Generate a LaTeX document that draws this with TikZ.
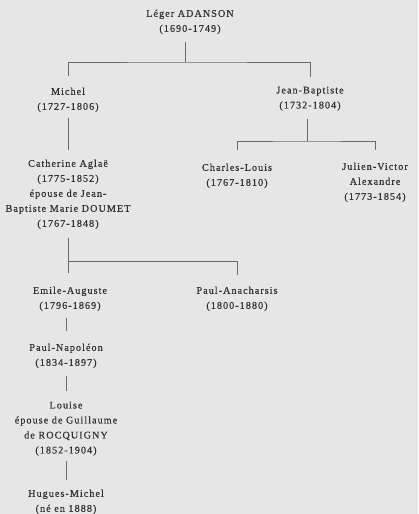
\documentclass[tikz,border=0pt]{standalone}
\usepackage{fontspec}
\setmainfont{Liberation Serif}[LetterSpace=10,FakeBold=0.6]
\definecolor{bg}{HTML}{E6E6E6}
\definecolor{ink}{HTML}{333333}
\definecolor{ln}{HTML}{6A6A6A}
\begin{document}
\begin{tikzpicture}[x=1pt,y=-1pt,
  person/.style={anchor=north,inner sep=0pt,align=center,text=ink,
    font=\fontsize{10.2}{15}\selectfont},
  link/.style={draw=ln,line width=0.9pt}]
\fill[bg] (0,0) rectangle (418,514);
\useasboundingbox (0,0) rectangle (418,514);
% people
\node[person] (lg) at (190,9.5) {Léger ADANSON\\(1690-1749)};
\node[person] (mi) at (68,87.5) {Michel\\(1727-1806)};
\node[person] (jb) at (310,86.5) {Jean-Baptiste\\(1732-1804)};
\node[person] (ca) at (68,159.5) {Catherine Aglaë\\(1775-1852)\\épouse de Jean-\\Baptiste Marie DOUMET\\(1767-1848)};
\node[person] (cl) at (237,163.5) {Charles-Louis\\(1767-1810)};
\node[person] (jv) at (375,162.5) {Julien-Victor\\Alexandre\\(1773-1854)};
\node[person] (em) at (70,286.5) {Emile-Auguste\\(1796-1869)};
\node[person] (pa) at (237,286.5) {Paul-Anacharsis\\(1800-1880)};
\node[person] (pn) at (66,343.5) {Paul-Napoléon\\(1834-1897)};
\node[person] (lo) at (66,401.5) {Louise\\épouse de Guillaume\\de ROCQUIGNY\\(1852-1904)};
\node[person] (hm) at (66,489.5) {Hugues-Michel\\(né en 1888)};
% junctions
\coordinate (j1) at (185,62);
\coordinate (j2) at (307,141);
\coordinate (j3) at (68,261);
% connectors
\draw[link] (185,42) -- (j1);
\draw[link] (mi.north |- 0,76) |- (j1) -| (jb.north |- 0,77);
\draw[link] (307,119) -- (j2);
\draw[link] (cl.north |- 0,150) |- (j2) -| (jv.north |- 0,150);
\draw[link] (68,118) -- (68,150);
\draw[link] (68,238) -- (68,273);
\draw[link] (j3) -| (pa.north |- 0,275);
\draw[link] (66,318) -- (66,331);
\draw[link] (66,376) -- (66,391);
\draw[link] (66,461) -- (66,480);
\end{tikzpicture}
\end{document}
